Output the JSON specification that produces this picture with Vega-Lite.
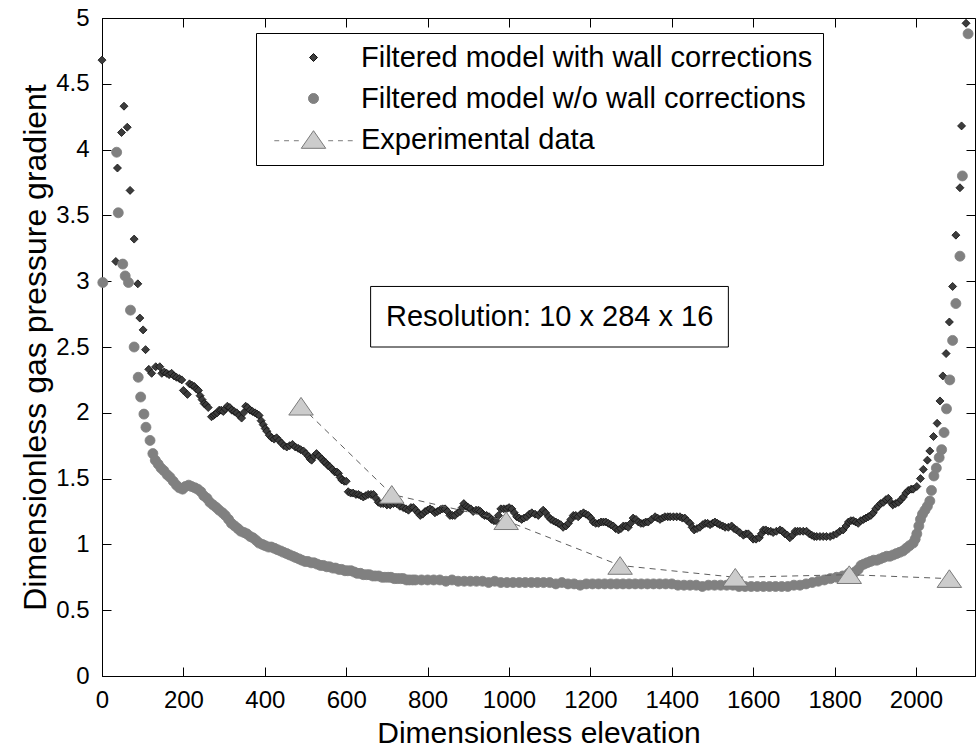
{
 "$schema": "https://vega.github.io/schema/vega-lite/v6.json",
 "width": 873, "height": 658,
 "autosize": {"type": "none"},
 "padding": {"left": 102, "top": 18, "right": 4, "bottom": 74},
 "background": "white",
 "config": {
  "font": "Liberation Sans",
  "view": {"stroke": "black", "strokeWidth": 1},
  "axis": {"grid": false, "domainColor": "black", "tickColor": "black", "labelColor": "black", "titleColor": "black", "labelFont": "Liberation Sans", "titleFont": "Liberation Sans", "labelFontSize": 24, "titleFontSize": 30, "titleFontWeight": "normal", "tickSize": -9, "labelFlush": false, "labelOverlap": false, "domainWidth": 1, "tickWidth": 1},
  "legend": {"padding": 10, "strokeColor": "black", "fillColor": "white", "labelFontSize": 29, "labelFont": "Liberation Sans", "labelColor": "black", "symbolStrokeWidth": 1, "rowPadding": 11, "symbolOffset": 33, "labelOffset": 33, "labelLimit": 0, "cornerRadius": 0}
 },
 "datasets": {
  "pts": [
   {"s":"w","x":0,"y":4.68},{"s":"w","x":34,"y":3.15},{"s":"w","x":38,"y":3.86},{"s":"w","x":48,"y":4.13},{"s":"w","x":54,"y":4.33},{"s":"w","x":62,"y":4.17},{"s":"w","x":69,"y":3.69},{"s":"w","x":79,"y":3.32},{"s":"w","x":88,"y":2.98},{"s":"w","x":93,"y":2.72},{"s":"w","x":101,"y":2.63},{"s":"w","x":107,"y":2.48},{"s":"w","x":115,"y":2.33},{"s":"w","x":122,"y":2.30},{"s":"w","x":132,"y":2.35},{"s":"w","x":142,"y":2.35},{"s":"w","x":147,"y":2.30},{"s":"w","x":153,"y":2.31},{"s":"w","x":159,"y":2.30},{"s":"w","x":165,"y":2.29},{"s":"w","x":171,"y":2.30},{"s":"w","x":177,"y":2.28},{"s":"w","x":183,"y":2.27},{"s":"w","x":190,"y":2.26},{"s":"w","x":196,"y":2.25},{"s":"w","x":200,"y":2.17},{"s":"w","x":210,"y":2.14},{"s":"w","x":215,"y":2.22},{"s":"w","x":221,"y":2.21},{"s":"w","x":227,"y":2.20},{"s":"w","x":232,"y":2.18},{"s":"w","x":237,"y":2.17},{"s":"w","x":241,"y":2.13},{"s":"w","x":246,"y":2.10},{"s":"w","x":251,"y":2.07},{"s":"w","x":256,"y":2.06},{"s":"w","x":261,"y":2.04},{"s":"w","x":269,"y":1.97},{"s":"w","x":274,"y":1.98},{"s":"w","x":278,"y":1.99},{"s":"w","x":283,"y":2.00},{"s":"w","x":288,"y":2.02},{"s":"w","x":293,"y":2.02},{"s":"w","x":298,"y":2.01},{"s":"w","x":303,"y":2.03},{"s":"w","x":308,"y":2.05},{"s":"w","x":314,"y":2.04},{"s":"w","x":319,"y":2.02},{"s":"w","x":325,"y":2.01},{"s":"w","x":331,"y":2.00},{"s":"w","x":337,"y":1.98},{"s":"w","x":343,"y":1.96},{"s":"w","x":348,"y":2.00},{"s":"w","x":353,"y":2.05},{"s":"w","x":358,"y":2.04},{"s":"w","x":364,"y":2.02},{"s":"w","x":370,"y":2.01},{"s":"w","x":376,"y":2.00},{"s":"w","x":381,"y":1.99},{"s":"w","x":386,"y":1.98},{"s":"w","x":391,"y":1.94},{"s":"w","x":396,"y":1.91},{"s":"w","x":401,"y":1.88},{"s":"w","x":405,"y":1.86},{"s":"w","x":411,"y":1.83},{"s":"w","x":417,"y":1.81},{"s":"w","x":423,"y":1.80},{"s":"w","x":429,"y":1.81},{"s":"w","x":435,"y":1.79},{"s":"w","x":441,"y":1.77},{"s":"w","x":447,"y":1.75},{"s":"w","x":454,"y":1.74},{"s":"w","x":461,"y":1.75},{"s":"w","x":468,"y":1.76},{"s":"w","x":475,"y":1.74},{"s":"w","x":482,"y":1.73},{"s":"w","x":488,"y":1.72},{"s":"w","x":495,"y":1.71},{"s":"w","x":501,"y":1.69},{"s":"w","x":507,"y":1.67},{"s":"w","x":511,"y":1.65},{"s":"w","x":515,"y":1.64},{"s":"w","x":521,"y":1.67},{"s":"w","x":527,"y":1.69},{"s":"w","x":533,"y":1.67},{"s":"w","x":540,"y":1.65},{"s":"w","x":545,"y":1.63},{"s":"w","x":550,"y":1.62},{"s":"w","x":555,"y":1.60},{"s":"w","x":560,"y":1.59},{"s":"w","x":566,"y":1.57},{"s":"w","x":572,"y":1.55},{"s":"w","x":577,"y":1.55},{"s":"w","x":581,"y":1.54},{"s":"w","x":585,"y":1.51},{"s":"w","x":589,"y":1.49},{"s":"w","x":595,"y":1.48},{"s":"w","x":600,"y":1.48},{"s":"w","x":605,"y":1.40},{"s":"w","x":611,"y":1.39},{"s":"w","x":617,"y":1.39},{"s":"w","x":624,"y":1.38},{"s":"w","x":630,"y":1.38},{"s":"w","x":636,"y":1.37},{"s":"w","x":642,"y":1.36},{"s":"w","x":648,"y":1.37},{"s":"w","x":654,"y":1.38},{"s":"w","x":661,"y":1.38},{"s":"w","x":667,"y":1.38},{"s":"w","x":673,"y":1.35},{"s":"w","x":679,"y":1.32},{"s":"w","x":685,"y":1.31},{"s":"w","x":691,"y":1.31},{"s":"w","x":700,"y":1.30},{"s":"w","x":708,"y":1.30},{"s":"w","x":716,"y":1.31},{"s":"w","x":724,"y":1.31},{"s":"w","x":732,"y":1.29},{"s":"w","x":740,"y":1.28},{"s":"w","x":747,"y":1.27},{"s":"w","x":753,"y":1.26},{"s":"w","x":759,"y":1.28},{"s":"w","x":765,"y":1.28},{"s":"w","x":771,"y":1.26},{"s":"w","x":777,"y":1.24},{"s":"w","x":782,"y":1.22},{"s":"w","x":788,"y":1.23},{"s":"w","x":794,"y":1.25},{"s":"w","x":800,"y":1.26},{"s":"w","x":806,"y":1.27},{"s":"w","x":812,"y":1.26},{"s":"w","x":818,"y":1.24},{"s":"w","x":824,"y":1.25},{"s":"w","x":830,"y":1.26},{"s":"w","x":837,"y":1.27},{"s":"w","x":843,"y":1.27},{"s":"w","x":849,"y":1.25},{"s":"w","x":855,"y":1.22},{"s":"w","x":861,"y":1.22},{"s":"w","x":867,"y":1.22},{"s":"w","x":874,"y":1.24},{"s":"w","x":880,"y":1.25},{"s":"w","x":885,"y":1.28},{"s":"w","x":889,"y":1.31},{"s":"w","x":895,"y":1.29},{"s":"w","x":900,"y":1.28},{"s":"w","x":906,"y":1.27},{"s":"w","x":912,"y":1.25},{"s":"w","x":919,"y":1.26},{"s":"w","x":925,"y":1.26},{"s":"w","x":930,"y":1.25},{"s":"w","x":935,"y":1.23},{"s":"w","x":940,"y":1.22},{"s":"w","x":945,"y":1.22},{"s":"w","x":951,"y":1.21},{"s":"w","x":957,"y":1.19},{"s":"w","x":963,"y":1.18},{"s":"w","x":968,"y":1.18},{"s":"w","x":974,"y":1.22},{"s":"w","x":980,"y":1.27},{"s":"w","x":987,"y":1.27},{"s":"w","x":994,"y":1.27},{"s":"w","x":1000,"y":1.28},{"s":"w","x":1007,"y":1.27},{"s":"w","x":1013,"y":1.24},{"s":"w","x":1019,"y":1.21},{"s":"w","x":1025,"y":1.20},{"s":"w","x":1031,"y":1.19},{"s":"w","x":1037,"y":1.20},{"s":"w","x":1044,"y":1.21},{"s":"w","x":1050,"y":1.23},{"s":"w","x":1056,"y":1.24},{"s":"w","x":1064,"y":1.23},{"s":"w","x":1072,"y":1.22},{"s":"w","x":1078,"y":1.24},{"s":"w","x":1084,"y":1.26},{"s":"w","x":1090,"y":1.24},{"s":"w","x":1097,"y":1.21},{"s":"w","x":1103,"y":1.19},{"s":"w","x":1109,"y":1.18},{"s":"w","x":1115,"y":1.17},{"s":"w","x":1121,"y":1.16},{"s":"w","x":1127,"y":1.15},{"s":"w","x":1133,"y":1.13},{"s":"w","x":1140,"y":1.14},{"s":"w","x":1146,"y":1.16},{"s":"w","x":1152,"y":1.19},{"s":"w","x":1158,"y":1.22},{"s":"w","x":1164,"y":1.22},{"s":"w","x":1170,"y":1.21},{"s":"w","x":1176,"y":1.23},{"s":"w","x":1183,"y":1.24},{"s":"w","x":1189,"y":1.23},{"s":"w","x":1195,"y":1.22},{"s":"w","x":1201,"y":1.20},{"s":"w","x":1207,"y":1.17},{"s":"w","x":1213,"y":1.16},{"s":"w","x":1220,"y":1.16},{"s":"w","x":1226,"y":1.17},{"s":"w","x":1232,"y":1.17},{"s":"w","x":1238,"y":1.17},{"s":"w","x":1244,"y":1.16},{"s":"w","x":1250,"y":1.15},{"s":"w","x":1256,"y":1.14},{"s":"w","x":1262,"y":1.12},{"s":"w","x":1269,"y":1.11},{"s":"w","x":1275,"y":1.12},{"s":"w","x":1281,"y":1.14},{"s":"w","x":1287,"y":1.14},{"s":"w","x":1293,"y":1.13},{"s":"w","x":1299,"y":1.16},{"s":"w","x":1305,"y":1.20},{"s":"w","x":1312,"y":1.19},{"s":"w","x":1318,"y":1.17},{"s":"w","x":1324,"y":1.16},{"s":"w","x":1330,"y":1.16},{"s":"w","x":1336,"y":1.17},{"s":"w","x":1342,"y":1.17},{"s":"w","x":1350,"y":1.19},{"s":"w","x":1359,"y":1.21},{"s":"w","x":1365,"y":1.20},{"s":"w","x":1371,"y":1.19},{"s":"w","x":1377,"y":1.20},{"s":"w","x":1383,"y":1.21},{"s":"w","x":1390,"y":1.21},{"s":"w","x":1396,"y":1.21},{"s":"w","x":1404,"y":1.21},{"s":"w","x":1412,"y":1.21},{"s":"w","x":1420,"y":1.21},{"s":"w","x":1426,"y":1.20},{"s":"w","x":1432,"y":1.20},{"s":"w","x":1438,"y":1.18},{"s":"w","x":1445,"y":1.16},{"s":"w","x":1450,"y":1.13},{"s":"w","x":1455,"y":1.11},{"s":"w","x":1462,"y":1.12},{"s":"w","x":1469,"y":1.13},{"s":"w","x":1476,"y":1.15},{"s":"w","x":1482,"y":1.16},{"s":"w","x":1488,"y":1.16},{"s":"w","x":1494,"y":1.15},{"s":"w","x":1500,"y":1.16},{"s":"w","x":1506,"y":1.17},{"s":"w","x":1512,"y":1.16},{"s":"w","x":1518,"y":1.15},{"s":"w","x":1525,"y":1.14},{"s":"w","x":1531,"y":1.13},{"s":"w","x":1539,"y":1.13},{"s":"w","x":1547,"y":1.14},{"s":"w","x":1553,"y":1.12},{"s":"w","x":1559,"y":1.11},{"s":"w","x":1567,"y":1.09},{"s":"w","x":1576,"y":1.07},{"s":"w","x":1582,"y":1.08},{"s":"w","x":1588,"y":1.08},{"s":"w","x":1594,"y":1.06},{"s":"w","x":1600,"y":1.04},{"s":"w","x":1607,"y":1.04},{"s":"w","x":1615,"y":1.05},{"s":"w","x":1620,"y":1.08},{"s":"w","x":1625,"y":1.11},{"s":"w","x":1631,"y":1.11},{"s":"w","x":1637,"y":1.10},{"s":"w","x":1643,"y":1.10},{"s":"w","x":1649,"y":1.09},{"s":"w","x":1657,"y":1.10},{"s":"w","x":1666,"y":1.11},{"s":"w","x":1672,"y":1.10},{"s":"w","x":1678,"y":1.08},{"s":"w","x":1684,"y":1.07},{"s":"w","x":1690,"y":1.05},{"s":"w","x":1697,"y":1.07},{"s":"w","x":1703,"y":1.10},{"s":"w","x":1709,"y":1.10},{"s":"w","x":1715,"y":1.10},{"s":"w","x":1723,"y":1.10},{"s":"w","x":1731,"y":1.10},{"s":"w","x":1738,"y":1.08},{"s":"w","x":1744,"y":1.07},{"s":"w","x":1750,"y":1.06},{"s":"w","x":1756,"y":1.06},{"s":"w","x":1764,"y":1.06},{"s":"w","x":1772,"y":1.06},{"s":"w","x":1780,"y":1.06},{"s":"w","x":1789,"y":1.06},{"s":"w","x":1797,"y":1.07},{"s":"w","x":1805,"y":1.08},{"s":"w","x":1813,"y":1.10},{"s":"w","x":1821,"y":1.11},{"s":"w","x":1828,"y":1.14},{"s":"w","x":1834,"y":1.17},{"s":"w","x":1840,"y":1.18},{"s":"w","x":1846,"y":1.18},{"s":"w","x":1852,"y":1.17},{"s":"w","x":1858,"y":1.16},{"s":"w","x":1864,"y":1.18},{"s":"w","x":1871,"y":1.19},{"s":"w","x":1877,"y":1.20},{"s":"w","x":1883,"y":1.21},{"s":"w","x":1889,"y":1.22},{"s":"w","x":1895,"y":1.24},{"s":"w","x":1901,"y":1.27},{"s":"w","x":1907,"y":1.29},{"s":"w","x":1913,"y":1.31},{"s":"w","x":1920,"y":1.32},{"s":"w","x":1926,"y":1.34},{"s":"w","x":1932,"y":1.35},{"s":"w","x":1938,"y":1.32},{"s":"w","x":1943,"y":1.30},{"s":"w","x":1950,"y":1.31},{"s":"w","x":1957,"y":1.32},{"s":"w","x":1963,"y":1.34},{"s":"w","x":1969,"y":1.36},{"s":"w","x":1975,"y":1.39},{"s":"w","x":1981,"y":1.41},{"s":"w","x":1988,"y":1.42},{"s":"w","x":1993,"y":1.42},{"s":"w","x":2002,"y":1.44},{"s":"w","x":2011,"y":1.50},{"s":"w","x":2018,"y":1.57},{"s":"w","x":2028,"y":1.64},{"s":"w","x":2034,"y":1.71},{"s":"w","x":2043,"y":1.82},{"s":"w","x":2052,"y":1.92},{"s":"w","x":2059,"y":2.09},{"s":"w","x":2066,"y":2.28},{"s":"w","x":2074,"y":2.45},{"s":"w","x":2082,"y":2.69},{"s":"w","x":2090,"y":2.96},{"s":"w","x":2098,"y":3.35},{"s":"w","x":2108,"y":3.71},{"s":"w","x":2112,"y":4.18},{"s":"w","x":2123,"y":4.96},
   {"s":"o","x":2,"y":2.99},{"s":"o","x":36,"y":3.98},{"s":"o","x":40,"y":3.52},{"s":"o","x":51,"y":3.13},{"s":"o","x":57,"y":3.04},{"s":"o","x":65,"y":2.99},{"s":"o","x":70,"y":2.78},{"s":"o","x":79,"y":2.50},{"s":"o","x":89,"y":2.27},{"s":"o","x":95,"y":2.12},{"s":"o","x":103,"y":1.99},{"s":"o","x":108,"y":1.89},{"s":"o","x":118,"y":1.79},{"s":"o","x":125,"y":1.69},{"s":"o","x":131,"y":1.64},{"s":"o","x":138,"y":1.61},{"s":"o","x":145,"y":1.58},{"s":"o","x":152,"y":1.56},{"s":"o","x":160,"y":1.53},{"s":"o","x":167,"y":1.51},{"s":"o","x":175,"y":1.48},{"s":"o","x":183,"y":1.45},{"s":"o","x":190,"y":1.43},{"s":"o","x":198,"y":1.42},{"s":"o","x":205,"y":1.44},{"s":"o","x":213,"y":1.45},{"s":"o","x":220,"y":1.44},{"s":"o","x":228,"y":1.43},{"s":"o","x":235,"y":1.42},{"s":"o","x":243,"y":1.40},{"s":"o","x":250,"y":1.37},{"s":"o","x":258,"y":1.35},{"s":"o","x":265,"y":1.32},{"s":"o","x":273,"y":1.30},{"s":"o","x":281,"y":1.28},{"s":"o","x":288,"y":1.26},{"s":"o","x":296,"y":1.24},{"s":"o","x":303,"y":1.22},{"s":"o","x":311,"y":1.19},{"s":"o","x":318,"y":1.16},{"s":"o","x":326,"y":1.14},{"s":"o","x":334,"y":1.12},{"s":"o","x":341,"y":1.10},{"s":"o","x":349,"y":1.09},{"s":"o","x":356,"y":1.08},{"s":"o","x":364,"y":1.06},{"s":"o","x":371,"y":1.05},{"s":"o","x":379,"y":1.03},{"s":"o","x":386,"y":1.01},{"s":"o","x":394,"y":1.00},{"s":"o","x":401,"y":0.99},{"s":"o","x":409,"y":0.98},{"s":"o","x":416,"y":0.98},{"s":"o","x":424,"y":0.97},{"s":"o","x":431,"y":0.96},{"s":"o","x":439,"y":0.95},{"s":"o","x":446,"y":0.94},{"s":"o","x":454,"y":0.93},{"s":"o","x":461,"y":0.92},{"s":"o","x":469,"y":0.91},{"s":"o","x":476,"y":0.90},{"s":"o","x":484,"y":0.89},{"s":"o","x":491,"y":0.88},{"s":"o","x":499,"y":0.87},{"s":"o","x":506,"y":0.87},{"s":"o","x":514,"y":0.86},{"s":"o","x":521,"y":0.86},{"s":"o","x":529,"y":0.85},{"s":"o","x":537,"y":0.84},{"s":"o","x":544,"y":0.84},{"s":"o","x":552,"y":0.83},{"s":"o","x":559,"y":0.83},{"s":"o","x":567,"y":0.82},{"s":"o","x":574,"y":0.82},{"s":"o","x":582,"y":0.81},{"s":"o","x":589,"y":0.81},{"s":"o","x":597,"y":0.80},{"s":"o","x":604,"y":0.80},{"s":"o","x":612,"y":0.80},{"s":"o","x":620,"y":0.79},{"s":"o","x":627,"y":0.78},{"s":"o","x":635,"y":0.78},{"s":"o","x":642,"y":0.77},{"s":"o","x":650,"y":0.77},{"s":"o","x":657,"y":0.77},{"s":"o","x":665,"y":0.76},{"s":"o","x":672,"y":0.76},{"s":"o","x":680,"y":0.76},{"s":"o","x":688,"y":0.75},{"s":"o","x":695,"y":0.75},{"s":"o","x":703,"y":0.75},{"s":"o","x":710,"y":0.75},{"s":"o","x":718,"y":0.74},{"s":"o","x":725,"y":0.74},{"s":"o","x":733,"y":0.74},{"s":"o","x":740,"y":0.74},{"s":"o","x":748,"y":0.73},{"s":"o","x":755,"y":0.73},{"s":"o","x":763,"y":0.73},{"s":"o","x":770,"y":0.73},{"s":"o","x":785,"y":0.73},{"s":"o","x":800,"y":0.73},{"s":"o","x":815,"y":0.73},{"s":"o","x":830,"y":0.73},{"s":"o","x":845,"y":0.72},{"s":"o","x":860,"y":0.73},{"s":"o","x":875,"y":0.72},{"s":"o","x":890,"y":0.72},{"s":"o","x":905,"y":0.72},{"s":"o","x":920,"y":0.72},{"s":"o","x":935,"y":0.72},{"s":"o","x":950,"y":0.71},{"s":"o","x":965,"y":0.72},{"s":"o","x":980,"y":0.71},{"s":"o","x":995,"y":0.71},{"s":"o","x":1010,"y":0.71},{"s":"o","x":1025,"y":0.71},{"s":"o","x":1040,"y":0.71},{"s":"o","x":1055,"y":0.71},{"s":"o","x":1070,"y":0.71},{"s":"o","x":1085,"y":0.71},{"s":"o","x":1100,"y":0.71},{"s":"o","x":1115,"y":0.70},{"s":"o","x":1130,"y":0.71},{"s":"o","x":1145,"y":0.70},{"s":"o","x":1160,"y":0.70},{"s":"o","x":1175,"y":0.69},{"s":"o","x":1190,"y":0.70},{"s":"o","x":1205,"y":0.70},{"s":"o","x":1220,"y":0.70},{"s":"o","x":1235,"y":0.70},{"s":"o","x":1250,"y":0.70},{"s":"o","x":1265,"y":0.70},{"s":"o","x":1280,"y":0.70},{"s":"o","x":1295,"y":0.70},{"s":"o","x":1310,"y":0.70},{"s":"o","x":1325,"y":0.70},{"s":"o","x":1340,"y":0.70},{"s":"o","x":1355,"y":0.70},{"s":"o","x":1370,"y":0.70},{"s":"o","x":1385,"y":0.70},{"s":"o","x":1400,"y":0.70},{"s":"o","x":1415,"y":0.69},{"s":"o","x":1430,"y":0.69},{"s":"o","x":1445,"y":0.69},{"s":"o","x":1460,"y":0.69},{"s":"o","x":1475,"y":0.68},{"s":"o","x":1490,"y":0.69},{"s":"o","x":1505,"y":0.69},{"s":"o","x":1520,"y":0.69},{"s":"o","x":1535,"y":0.69},{"s":"o","x":1550,"y":0.69},{"s":"o","x":1565,"y":0.68},{"s":"o","x":1580,"y":0.68},{"s":"o","x":1595,"y":0.68},{"s":"o","x":1610,"y":0.68},{"s":"o","x":1625,"y":0.68},{"s":"o","x":1640,"y":0.68},{"s":"o","x":1655,"y":0.68},{"s":"o","x":1670,"y":0.68},{"s":"o","x":1685,"y":0.68},{"s":"o","x":1700,"y":0.69},{"s":"o","x":1715,"y":0.69},{"s":"o","x":1730,"y":0.70},{"s":"o","x":1745,"y":0.71},{"s":"o","x":1760,"y":0.72},{"s":"o","x":1775,"y":0.73},{"s":"o","x":1790,"y":0.74},{"s":"o","x":1805,"y":0.75},{"s":"o","x":1820,"y":0.76},{"s":"o","x":1835,"y":0.78},{"s":"o","x":1850,"y":0.79},{"s":"o","x":1858,"y":0.81},{"s":"o","x":1865,"y":0.84},{"s":"o","x":1872,"y":0.85},{"s":"o","x":1880,"y":0.86},{"s":"o","x":1888,"y":0.87},{"s":"o","x":1896,"y":0.88},{"s":"o","x":1904,"y":0.88},{"s":"o","x":1912,"y":0.89},{"s":"o","x":1920,"y":0.90},{"s":"o","x":1928,"y":0.91},{"s":"o","x":1936,"y":0.91},{"s":"o","x":1944,"y":0.92},{"s":"o","x":1952,"y":0.93},{"s":"o","x":1960,"y":0.94},{"s":"o","x":1968,"y":0.95},{"s":"o","x":1976,"y":0.97},{"s":"o","x":1984,"y":0.99},{"s":"o","x":1993,"y":1.01},{"s":"o","x":1998,"y":1.04},{"s":"o","x":2002,"y":1.08},{"s":"o","x":2007,"y":1.14},{"s":"o","x":2011,"y":1.19},{"s":"o","x":2016,"y":1.23},{"s":"o","x":2022,"y":1.26},{"s":"o","x":2028,"y":1.29},{"s":"o","x":2034,"y":1.33},{"s":"o","x":2038,"y":1.41},{"s":"o","x":2044,"y":1.52},{"s":"o","x":2050,"y":1.58},{"s":"o","x":2057,"y":1.66},{"s":"o","x":2063,"y":1.72},{"s":"o","x":2069,"y":1.85},{"s":"o","x":2075,"y":2.03},{"s":"o","x":2083,"y":2.25},{"s":"o","x":2090,"y":2.55},{"s":"o","x":2098,"y":2.83},{"s":"o","x":2108,"y":3.19},{"s":"o","x":2114,"y":3.80},{"s":"o","x":2128,"y":4.88},
   {"s":"e","x":489,"y":2.05},{"s":"e","x":712,"y":1.38},{"s":"e","x":993,"y":1.18},{"s":"e","x":1273,"y":0.84},{"s":"e","x":1556,"y":0.75},{"s":"e","x":1836,"y":0.77},{"s":"e","x":2082,"y":0.74}
  ],
  "box": [{"x1": 660, "x2": 1539, "y1": 2.5, "y2": 2.96, "xm": 1100, "ym": 2.73, "label": "Resolution: 10 x 284 x 16"}]
 },
 "layer": [
  {
   "data": {"name": "pts"},
   "transform": [{"filter": "datum.s != 'e'"}],
   "mark": {"type": "point", "filled": true, "opacity": 1, "strokeWidth": 0.8},
   "encoding": {
    "x": {"field": "x", "type": "quantitative", "scale": {"domain": [0, 2145], "nice": false, "zero": false},
          "axis": {"orient": "bottom", "values": [0,200,400,600,800,1000,1200,1400,1600,1800,2000], "format": "d", "labelPadding": 21, "title": "Dimensionless elevation", "titlePadding": 6}},
    "y": {"field": "y", "type": "quantitative", "scale": {"domain": [0, 5], "nice": false, "zero": false},
          "axis": {"orient": "left", "values": [0,0.5,1,1.5,2,2.5,3,3.5,4,4.5,5], "format": "~g", "labelPadding": 22, "title": "Dimensionless gas pressure gradient", "titleFontSize": 32, "titlePadding": 3}},
    "shape": {"field": "s", "type": "nominal", "title": null, "scale": {"domain": ["w","o","e"], "range": ["diamond","circle","M-1,0.72L0,-0.72L1,0.72Z M-3.2,0.1L-2.8,0.1 M-2.4,0.1L-2,0.1 M-1.6,0.1L-1.2,0.1 M1.2,0.1L1.6,0.1 M2,0.1L2.4,0.1 M2.8,0.1L3.2,0.1"]},
              "legend": {"orient": "none", "legendX": 154, "legendY": 15, "title": null,
                         "labelExpr": "datum.value == 'w' ? 'Filtered model with wall corrections' : datum.value == 'o' ? 'Filtered model w/o wall corrections' : 'Experimental data'"}},
    "fill": {"field": "s", "type": "nominal", "title": null, "scale": {"domain": ["w","o","e"], "range": ["#3c3c3c","#808080","#cccccc"]}},
    "stroke": {"field": "s", "type": "nominal", "title": null, "scale": {"domain": ["w","o","e"], "range": ["#111111","#808080","#7a7a7a"]}},
    "size": {"field": "s", "type": "nominal", "title": null, "scale": {"type": "ordinal", "domain": ["w","o","e"], "range": [64, 100, 600]}}
   }
  },
  {
   "data": {"name": "pts"},
   "transform": [{"filter": "datum.s == 'e'"}],
   "mark": {"type": "line", "stroke": "#5e5e5e", "strokeWidth": 1, "strokeDash": [6, 5]},
   "encoding": {
    "x": {"field": "x", "type": "quantitative", "scale": {"domain": [0, 2145], "nice": false, "zero": false}, "axis": null},
    "y": {"field": "y", "type": "quantitative", "scale": {"domain": [0, 5], "nice": false, "zero": false}, "axis": null}
   }
  },
  {
   "data": {"name": "pts"},
   "transform": [{"filter": "datum.s == 'e'"}],
   "mark": {"type": "point", "filled": true, "opacity": 1, "strokeWidth": 1, "shape": "M-1,0.72L0,-0.72L1,0.72Z", "size": 600, "fill": "#cccccc", "stroke": "#7a7a7a"},
   "encoding": {
    "x": {"field": "x", "type": "quantitative", "scale": {"domain": [0, 2145], "nice": false, "zero": false}, "axis": null},
    "y": {"field": "y", "type": "quantitative", "scale": {"domain": [0, 5], "nice": false, "zero": false}, "axis": null}
   }
  },
  {
   "data": {"name": "box"},
   "mark": {"type": "rect", "fill": "white", "stroke": "black", "strokeWidth": 1},
   "encoding": {
    "x": {"field": "x1", "type": "quantitative", "scale": {"domain": [0, 2145], "nice": false, "zero": false},
          "axis": {"orient": "top", "values": [0,200,400,600,800,1000,1200,1400,1600,1800,2000], "labels": false, "title": null, "domain": false}},
    "x2": {"field": "x2"},
    "y": {"field": "y1", "type": "quantitative", "scale": {"domain": [0, 5], "nice": false, "zero": false},
          "axis": {"orient": "right", "values": [0,0.5,1,1.5,2,2.5,3,3.5,4,4.5,5], "labels": false, "title": null, "domain": false}},
    "y2": {"field": "y2"}
   }
  },
  {
   "data": {"name": "box"},
   "mark": {"type": "text", "fontSize": 29, "font": "Liberation Sans", "color": "black", "align": "center", "baseline": "middle"},
   "encoding": {
    "x": {"field": "xm", "type": "quantitative", "scale": {"domain": [0, 2145], "nice": false, "zero": false}, "axis": null},
    "y": {"field": "ym", "type": "quantitative", "scale": {"domain": [0, 5], "nice": false, "zero": false}, "axis": null},
    "text": {"field": "label"}
   }
  }
 ],
 "resolve": {"axis": {"x": "independent", "y": "independent"}}
}
